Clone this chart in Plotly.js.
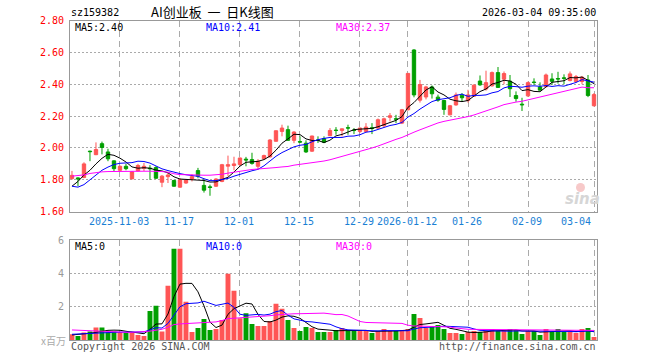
<!DOCTYPE html>
<html><head><meta charset="utf-8">
<script src="https://cdn.plot.ly/plotly-3.0.1.min.js"></script>
<style>html,body{margin:0;padding:0;background:#fff}#chart{width:660px;height:360px}</style>
</head><body><div id="chart"></div>
<script>
const dates = ['2025-10-22','2025-10-23','2025-10-24','2025-10-27','2025-10-28','2025-10-29','2025-10-30','2025-10-31',
'2025-11-03','2025-11-04','2025-11-05','2025-11-06','2025-11-07','2025-11-10','2025-11-11','2025-11-12','2025-11-13','2025-11-14',
'2025-11-17','2025-11-18','2025-11-19','2025-11-20','2025-11-21','2025-11-24','2025-11-25','2025-11-26','2025-11-27','2025-11-28',
'2025-12-01','2025-12-02','2025-12-03','2025-12-04','2025-12-05','2025-12-08','2025-12-09','2025-12-10','2025-12-11','2025-12-12',
'2025-12-15','2025-12-16','2025-12-17','2025-12-18','2025-12-19','2025-12-22','2025-12-23','2025-12-24','2025-12-25','2025-12-26',
'2025-12-29','2025-12-30','2025-12-31','2026-01-05','2026-01-06','2026-01-07','2026-01-08','2026-01-09',
'2026-01-12','2026-01-13','2026-01-14','2026-01-15','2026-01-16','2026-01-19','2026-01-20','2026-01-21','2026-01-22','2026-01-23',
'2026-01-26','2026-01-27','2026-01-28','2026-01-29','2026-01-30','2026-02-02','2026-02-03','2026-02-04','2026-02-05','2026-02-06',
'2026-02-09','2026-02-10','2026-02-11','2026-02-12','2026-02-13','2026-02-24','2026-02-25','2026-02-26','2026-02-27',
'2026-03-02','2026-03-03','2026-03-04'];

const openP = [1.808,1.812,1.815,1.980,1.958,2.027,1.975,1.919,1.860,1.885,
 1.806,1.856,1.872,1.873,1.877,1.785,1.820,1.796,1.754,1.780,
 1.805,1.858,1.765,1.756,1.760,1.790,1.886,1.890,1.896,1.930,
 1.927,1.885,1.932,1.944,2.042,2.104,2.115,2.048,2.040,2.030,
 1.980,2.050,2.058,2.077,2.112,2.110,2.127,2.112,2.104,2.104,
 2.127,2.125,2.140,2.192,2.183,2.156,2.240,2.615,2.300,2.320,
 2.383,2.319,2.298,2.208,2.270,2.331,2.298,2.325,2.420,2.370,
 2.390,2.473,2.432,2.419,2.329,2.275,2.327,2.414,2.383,2.385,
 2.433,2.436,2.440,2.423,2.417,2.417,2.427,2.265];
const highP = [1.856,1.816,1.910,1.983,2.035,2.040,1.995,1.922,1.890,1.900,
 1.855,1.900,1.906,1.892,1.885,1.830,1.845,1.800,1.810,1.805,
 1.835,1.875,1.806,1.770,1.810,1.900,1.952,1.945,1.940,1.944,
 1.970,1.930,1.958,2.055,2.110,2.146,2.140,2.105,2.073,2.048,
 2.077,2.073,2.073,2.125,2.131,2.122,2.146,2.125,2.128,2.156,
 2.156,2.185,2.190,2.219,2.208,2.245,2.470,2.620,2.427,2.390,
 2.392,2.335,2.302,2.270,2.348,2.344,2.365,2.400,2.455,2.485,
 2.480,2.508,2.480,2.458,2.355,2.315,2.417,2.437,2.412,2.467,
 2.469,2.478,2.462,2.480,2.458,2.452,2.458,2.345];
const lowP = [1.800,1.760,1.810,1.917,1.955,1.960,1.917,1.855,1.855,1.860,
 1.805,1.853,1.855,1.800,1.805,1.754,1.780,1.757,1.750,1.775,
 1.790,1.810,1.720,1.700,1.755,1.785,1.823,1.860,1.890,1.885,
 1.895,1.865,1.927,1.940,2.040,2.073,2.045,2.030,2.031,1.969,
 1.975,2.031,2.030,2.075,2.083,2.073,2.083,2.087,2.095,2.098,
 2.087,2.120,2.130,2.167,2.156,2.150,2.235,2.318,2.285,2.305,
 2.310,2.290,2.208,2.205,2.265,2.290,2.285,2.320,2.390,2.360,
 2.385,2.378,2.400,2.320,2.290,2.232,2.320,2.396,2.360,2.380,
 2.396,2.404,2.400,2.418,2.410,2.400,2.319,2.260];
const closeP = [1.828,1.806,1.900,1.977,1.990,2.003,1.932,1.870,1.885,1.870,
 1.850,1.890,1.885,1.870,1.810,1.823,1.830,1.760,1.800,1.800,
 1.820,1.823,1.735,1.752,1.805,1.895,1.895,1.900,1.937,1.925,
 1.903,1.917,1.952,2.050,2.108,2.125,2.048,2.100,2.037,1.975,
 2.075,2.048,2.036,2.110,2.110,2.120,2.125,2.110,2.125,2.131,
 2.122,2.177,2.183,2.202,2.181,2.240,2.468,2.333,2.398,2.383,
 2.340,2.300,2.242,2.265,2.333,2.315,2.333,2.394,2.396,2.410,
 2.473,2.380,2.467,2.372,2.310,2.271,2.410,2.411,2.363,2.458,
 2.418,2.433,2.437,2.465,2.448,2.444,2.329,2.335];

const ma5 = [1.760,1.790,1.830,1.860,1.900,1.935,1.960,1.954,1.936,1.912,
 1.881,1.873,1.876,1.873,1.861,1.856,1.844,1.819,1.805,1.803,
 1.802,1.801,1.796,1.786,1.787,1.802,1.816,1.849,1.886,1.910,
 1.912,1.916,1.927,1.949,1.986,2.030,2.057,2.086,2.084,2.057,
 2.047,2.047,2.034,2.049,2.076,2.085,2.100,2.115,2.118,2.122,
 2.123,2.133,2.148,2.163,2.173,2.197,2.255,2.285,2.324,2.364,
 2.384,2.351,2.333,2.306,2.296,2.291,2.298,2.328,2.354,2.370,
 2.401,2.411,2.425,2.420,2.400,2.360,2.366,2.355,2.353,2.383,
 2.412,2.417,2.422,2.442,2.440,2.445,2.425,2.404];
const ma10 = [1.760,1.754,1.770,1.800,1.830,1.860,1.880,1.896,1.904,1.906,
 1.908,1.917,1.915,1.905,1.887,1.869,1.858,1.847,1.839,1.832,
 1.829,1.822,1.807,1.795,1.795,1.802,1.809,1.823,1.836,1.849,
 1.857,1.866,1.888,1.918,1.948,1.971,1.987,2.007,2.017,2.022,
 2.039,2.052,2.060,2.066,2.066,2.066,2.074,2.075,2.083,2.099,
 2.104,2.117,2.131,2.141,2.148,2.160,2.194,2.216,2.244,2.269,
 2.291,2.303,2.309,2.315,2.330,2.338,2.324,2.330,2.330,2.333,
 2.346,2.354,2.377,2.387,2.385,2.381,2.388,2.390,2.387,2.392,
 2.386,2.391,2.388,2.398,2.411,2.429,2.421,2.413];
const ma30 = [1.823,1.825,1.831,1.840,1.846,1.850,1.852,1.853,1.854,1.854,
 1.854,1.854,1.854,1.854,1.854,1.852,1.848,1.838,1.833,1.831,
 1.830,1.829,1.829,1.829,1.831,1.835,1.842,1.848,1.855,1.862,
 1.865,1.868,1.870,1.873,1.877,1.881,1.884,1.892,1.897,1.901,
 1.908,1.913,1.918,1.926,1.936,1.946,1.956,1.968,1.979,1.990,
 2.000,2.012,2.027,2.042,2.054,2.066,2.085,2.099,2.114,2.130,
 2.144,2.157,2.167,2.174,2.181,2.188,2.197,2.207,2.219,2.234,
 2.247,2.258,2.272,2.281,2.288,2.293,2.302,2.312,2.320,2.331,
 2.341,2.349,2.358,2.367,2.376,2.382,2.378,2.378];

const volume = [0.36,0.26,0.46,0.52,0.76,0.76,0.48,0.52,0.48,0.46,
 0.46,0.32,0.26,1.76,2.06,0.52,3.26,5.48,5.48,2.30,
 0.50,0.74,1.28,0.62,0.68,1.22,3.98,2.96,1.32,1.62,
 0.98,0.86,0.86,1.16,2.18,1.88,1.22,0.74,0.56,0.80,
 0.74,0.50,0.50,0.50,0.62,0.74,0.56,0.56,0.56,0.56,
 0.44,0.56,0.68,0.56,0.56,0.56,0.68,1.58,1.34,0.74,
 0.80,0.92,0.68,0.44,0.44,0.38,0.50,0.56,0.50,0.56,
 0.68,0.56,0.56,0.68,0.62,0.38,0.56,0.56,0.32,0.68,
 0.50,0.68,0.50,0.50,0.44,0.68,0.74,0.20];
const volMa5 = [0.32,0.34,0.38,0.42,0.472,0.552,0.596,0.608,0.600,0.540,
 0.480,0.448,0.396,0.652,0.972,0.984,1.572,2.616,3.360,3.408,
 3.404,2.900,2.060,1.088,0.764,0.908,1.556,1.892,2.032,2.220,
 2.172,1.548,1.128,1.096,1.208,1.388,1.460,1.436,1.316,1.040,
 0.812,0.668,0.620,0.608,0.572,0.572,0.584,0.596,0.608,0.596,
 0.536,0.536,0.560,0.560,0.560,0.584,0.608,0.788,0.944,0.980,
 1.028,1.076,0.896,0.716,0.656,0.572,0.488,0.464,0.476,0.500,
 0.560,0.572,0.572,0.608,0.620,0.560,0.560,0.560,0.488,0.500,
 0.524,0.548,0.536,0.572,0.524,0.560,0.572,0.512];
const volMa10 = [0.36,0.37,0.38,0.40,0.42,0.44,0.46,0.48,0.49,0.506,
 0.516,0.522,0.502,0.626,0.756,0.732,1.010,1.506,2.006,2.190,
 2.194,2.236,2.338,2.224,2.086,2.156,2.228,1.976,1.560,1.492,
 1.540,1.552,1.510,1.564,1.714,1.780,1.504,1.282,1.206,1.124,
 1.100,1.064,1.028,0.962,0.806,0.692,0.626,0.608,0.608,0.584,
 0.554,0.560,0.578,0.584,0.578,0.560,0.572,0.674,0.752,0.770,
 0.806,0.842,0.842,0.830,0.818,0.800,0.782,0.680,0.596,0.578,
 0.566,0.530,0.518,0.542,0.560,0.560,0.566,0.566,0.548,0.560,
 0.542,0.554,0.548,0.530,0.512,0.542,0.560,0.524];
const volMa30 = [0.62,0.60,0.58,0.56,0.54,0.52,0.50,0.48,0.48,0.48,
 0.48,0.48,0.52,0.55,0.60,0.66,0.78,0.94,0.98,1.00,
 1.02,1.04,1.06,1.08,1.10,1.18,1.30,1.32,1.34,1.396,
 1.417,1.437,1.450,1.471,1.519,1.556,1.581,1.588,1.591,1.602,
 1.611,1.617,1.625,1.583,1.535,1.543,1.453,1.289,1.125,1.067,
 1.065,1.059,1.039,1.037,1.033,1.011,0.901,0.855,0.855,0.826,
 0.820,0.822,0.816,0.792,0.734,0.684,0.660,0.654,0.652,0.644,
 0.642,0.644,0.646,0.652,0.652,0.640,0.640,0.640,0.632,0.636,
 0.638,0.642,0.636,0.634,0.630,0.634,0.636,0.590];

const xTickVals = ['2025-11-03','2025-11-17','2025-12-01','2025-12-15','2025-12-29','2026-01-12','2026-01-26','2026-02-09','2026-03-04'];
const xTickText = ['2025-11-03','11-17','12-01','12-15','12-29','2026-01-12','01-26','02-09','03-04'];
const priceTicks = [1.6,1.8,2.0,2.2,2.4,2.6,2.8];
const volTicks = [2,4,6];
const headerCode = 'sz159382';
const headerTitle = 'AI创业板 一 日K线图';
const headerTime = '2026-03-04 09:35:00';
const priceLegend = ['MA5:2.40','MA10:2.41','MA30:2.37'];
const volLegend = ['MA5:0','MA10:0','MA30:0'];
const volUnit = 'x百万';
const footLeft = 'Copyright 2026 SINA.COM';
const footRight = 'http://finance.sina.com.cn';

const W = 660, H = 360;
const RED = '#ff5555', GREEN = '#009f00';
const MONO = 'DejaVu Sans Mono, monospace';
const legendColors = ['#000000','#0000ff','#ff00ff'];
const legendX = [74, 205, 335];
const px = v => v / W;
const py = v => 1 - v / H;

const volColors = closeP.map((c, i) => c >= openP[i] ? RED : GREEN);

const traces = [
  {type:'candlestick', x:dates, open:openP, high:highP, low:lowP, close:closeP,
   xaxis:'x', yaxis:'y', whiskerwidth:0, hoverinfo:'skip',
   increasing:{line:{color:RED,width:1}, fillcolor:RED},
   decreasing:{line:{color:GREEN,width:1}, fillcolor:GREEN}},
  {type:'scatter', mode:'lines', x:dates, y:ma5, xaxis:'x', yaxis:'y', line:{color:'#000000',width:1}, hoverinfo:'skip'},
  {type:'scatter', mode:'lines', x:dates, y:ma10, xaxis:'x', yaxis:'y', line:{color:'#0000ff',width:1}, hoverinfo:'skip'},
  {type:'scatter', mode:'lines', x:dates, y:ma30, xaxis:'x', yaxis:'y', line:{color:'#ff00ff',width:1}, hoverinfo:'skip'},
  {type:'bar', x:dates, y:volume, xaxis:'x2', yaxis:'y2', marker:{color:volColors, line:{width:0}}, hoverinfo:'skip'},
  {type:'scatter', mode:'lines', x:dates, y:volMa5, xaxis:'x2', yaxis:'y2', line:{color:'#000000',width:1}, hoverinfo:'skip'},
  {type:'scatter', mode:'lines', x:dates, y:volMa10, xaxis:'x2', yaxis:'y2', line:{color:'#0000ff',width:1}, hoverinfo:'skip'},
  {type:'scatter', mode:'lines', x:dates, y:volMa30, xaxis:'x2', yaxis:'y2', line:{color:'#ff00ff',width:1}, hoverinfo:'skip'}
];

const xCommon = {
  type:'category', categoryorder:'array', categoryarray:dates,
  domain:[px(70), px(597)], range:[-0.33, 87.5],
  tickvals:xTickVals, showticklabels:false, ticks:'',
  showgrid:true, gridcolor:'#aaaaaa', griddash:'6px,4px', gridwidth:1,
  showline:true, mirror:true, linecolor:'#999999', linewidth:1,
  zeroline:false, fixedrange:true, rangeslider:{visible:false}
};

const annotations = [];
function addText(text, x, y, anchor, color, size, family, extra) {
  annotations.push(Object.assign({text:text, xref:'paper', yref:'paper', x:px(x), y:py(y),
    xanchor:anchor, yanchor:'middle', showarrow:false, borderpad:0,
    font:{family:family||MONO, size:size||10, color:color||'#000'}}, extra||{}));
}
addText(headerCode, 70, 12.5, 'left', '#000', 10);
addText(headerTitle.split(' ').join('\u00a0\u00a0'), 150, 12, 'left', '#000', 13, 'Noto Sans CJK SC');
addText(headerTime, 597, 12.5, 'right', '#000', 10);
priceLegend.forEach((t, i) => addText(t, legendX[i], 27.5, 'left', legendColors[i], 10));
volLegend.forEach((t, i) => addText(t, legendX[i], 246.5, 'left', legendColors[i], 10));
addText(volUnit, 67, 340, 'right', '#aaaaaa', 10, 'Noto Sans CJK SC');
addText(footLeft, 70, 346.5, 'left', '#555555', 10);
addText(footRight, 597, 346.5, 'right', '#555555', 10);
addText('sina', 582, 199, 'center', '#d6d6d6', 15, 'DejaVu Sans', {font:{family:'DejaVu Sans', size:15, color:'#d6d6d6', weight:'bold', style:'italic'}});
xTickVals.forEach((v, i) => {
  const last = i === xTickVals.length - 1;
  annotations.push({text:xTickText[i], xref:'x', yref:'paper', x:v, y:py(221.5),
    xanchor:last ? 'right' : 'center', yanchor:'middle', xshift:last ? -2 : -1, showarrow:false, borderpad:0,
    font:{family:MONO, size:10, color:'#1a7fd4'}});
});

const layout = {
  width:W, height:H, margin:{l:0,r:0,t:0,b:0},
  paper_bgcolor:'#ffffff', plot_bgcolor:'#ffffff',
  showlegend:false, boxgap:0.2, bargap:0.18, hovermode:false,
  font:{family:MONO, size:10},
  xaxis:Object.assign({}, xCommon, {anchor:'y'}),
  xaxis2:Object.assign({}, xCommon, {anchor:'y2', matches:'x'}),
  yaxis:{domain:[py(211.7), py(20.5)], range:[1.6, 2.8], tickvals:priceTicks,
    ticktext:priceTicks.map(v => v.toFixed(2)), ticks:'', ticklabelstandoff:3,
    tickfont:{family:MONO, size:10, color:'#ff0000'},
    showgrid:true, gridcolor:'#aaaaaa', griddash:'2px,2px', gridwidth:1,
    showline:true, mirror:true, linecolor:'#999999', linewidth:1, zeroline:false, fixedrange:true, anchor:'x'},
  yaxis2:{domain:[py(340.3), py(240)], range:[0, 6], tickvals:volTicks,
    ticktext:volTicks.map(String), ticks:'', ticklabelstandoff:3,
    tickfont:{family:MONO, size:10, color:'#999999'},
    showgrid:true, gridcolor:'#aaaaaa', griddash:'2px,2px', gridwidth:1,
    showline:true, mirror:true, linecolor:'#999999', linewidth:1, zeroline:false, fixedrange:true, anchor:'x2'},
  annotations:annotations,
  shapes:[{type:'circle', xref:'paper', yref:'paper', x0:px(576), x1:px(585), y0:py(192), y1:py(183),
    fillcolor:'#f7c9c9', line:{width:0}, layer:'above'}]
};

Plotly.newPlot('chart', traces, layout, {staticPlot:true, displayModeBar:false});
</script>
</body></html>
